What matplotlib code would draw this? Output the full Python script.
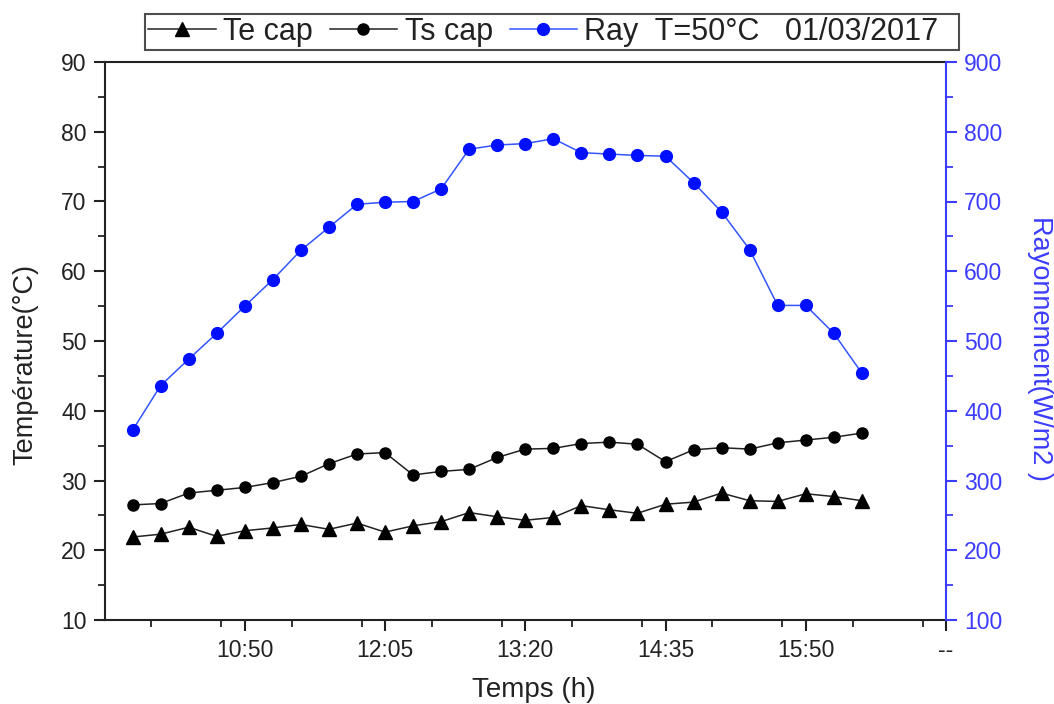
import matplotlib
matplotlib.use("Agg")
import matplotlib.pyplot as plt
from matplotlib.ticker import MultipleLocator, FixedLocator, FixedFormatter

plt.rcParams['font.family'] = ['Liberation Sans', 'DejaVu Sans']

# ---- data ----
times = ["09:50", "10:05", "10:20", "10:35", "10:50", "11:05", "11:20", "11:35",
         "11:50", "12:05", "12:20", "12:35", "12:50", "13:05", "13:20", "13:35",
         "13:50", "14:05", "14:20", "14:35", "14:50", "15:05", "15:20", "15:35",
         "15:50", "16:05", "16:20"]
te_cap = [21.9, 22.3, 23.3, 22.0, 22.8, 23.2, 23.7, 23.0, 23.9, 22.6, 23.5, 24.1,
          25.4, 24.8, 24.3, 24.7, 26.4, 25.8, 25.3, 26.6, 26.9, 28.2, 27.1, 27.0,
          28.1, 27.7, 27.1]
ts_cap = [26.5, 26.7, 28.2, 28.6, 29.0, 29.7, 30.6, 32.4, 33.8, 34.0, 30.8, 31.3,
          31.6, 33.3, 34.5, 34.6, 35.3, 35.5, 35.2, 32.7, 34.4, 34.7, 34.5, 35.4,
          35.8, 36.2, 36.8]
ray = [372, 436, 474, 511, 550, 588, 630, 663, 696, 699, 700, 718,
       775, 781, 783, 790, 770, 768, 766, 765, 727, 685, 631, 551,
       551, 511, 454]
xtick_labels = ["10:50", "12:05", "13:20", "14:35", "15:50", "--"]
xtick_times = ["10:50", "12:05", "13:20", "14:35", "15:50", "17:05"]
x_range = ["09:35", "17:05"]

def to_min(t):
    h, m = t.split(":")
    return int(h) * 60 + int(m)

x = [to_min(t) for t in times]

BLUE_AX = '#3c3cff'
BLUE_MK = '#0010ff'
BLUE_LN = '#3355ff'
DARK = '#222222'

fig = plt.figure(figsize=(10.54, 7.04), dpi=100)
L, R, B, T = 104.5 / 1054, 946 / 1054, 1 - 620 / 704, 1 - 62 / 704
ax = fig.add_axes([L, B, R - L, T - B])
ax2 = ax.twinx()

l1, = ax.plot(x, te_cap, color=DARK, lw=1.1, marker='^', ms=10.5,
              mfc='black', mec='black', label='Te cap')
l2, = ax.plot(x, ts_cap, color=DARK, lw=1.1, marker='o', ms=8,
              mfc='black', mec='black', label='Ts cap')
l3, = ax2.plot(x, ray, color=BLUE_LN, lw=1.1, marker='o', ms=8.5,
               mfc=BLUE_MK, mec=BLUE_MK, label='Ray  T=50°C   01/03/2017  ')

ax.set_xlim(to_min(x_range[0]), to_min(x_range[1]))
ax.set_ylim(10, 90)
ax2.set_ylim(100, 900)

ax.xaxis.set_major_locator(FixedLocator([to_min(t) for t in xtick_times]))
ax.xaxis.set_major_formatter(FixedFormatter(xtick_labels))
ax.xaxis.set_minor_locator(MultipleLocator(37.5))
ax.yaxis.set_major_locator(MultipleLocator(10))
ax.yaxis.set_minor_locator(MultipleLocator(5))
ax2.yaxis.set_major_locator(MultipleLocator(100))
ax2.yaxis.set_minor_locator(MultipleLocator(50))

for a in (ax, ax2):
    for s in a.spines.values():
        s.set_linewidth(1.5)
ax.spines['right'].set_visible(False)
ax2.spines['left'].set_visible(False)
ax2.spines['top'].set_visible(False)
ax2.spines['bottom'].set_visible(False)
ax2.spines['right'].set_color(BLUE_AX)
for k in ('left', 'top', 'bottom'):
    ax.spines[k].set_color(DARK)

ax.tick_params(axis='both', which='major', direction='out', length=8, width=1.5,
               labelsize=16.5, colors=DARK, labelcolor=DARK, pad=5)
ax.tick_params(axis='both', which='minor', direction='out', length=5, width=1.3,
               colors=DARK)
ax.tick_params(axis='x', which='major', pad=6)
ax2.tick_params(axis='y', which='major', direction='out', length=8, width=1.5,
                labelsize=16.5, colors=BLUE_AX, labelcolor=BLUE_AX, pad=5)
ax2.tick_params(axis='y', which='minor', direction='out', length=5, width=1.3,
                colors=BLUE_AX)

ax.set_xlabel('Temps (h)', fontsize=20, color=DARK, va='center')
ax.xaxis.set_label_coords(0.5104, -0.1254)
ax.set_ylabel('Température(°C)', fontsize=19.5, color=DARK, va='center')
ax.yaxis.set_label_coords(-0.0945, 0.457)
ax2.set_ylabel('Rayonnement(W/m2 )', fontsize=19.5, color=BLUE_AX, rotation=-90,
               va='center')
ax2.yaxis.set_label_coords(1.1117, 0.486)

leg = fig.legend(handles=[l1, l2, l3], loc='center', bbox_to_anchor=(552 / 1054, 1 - 32 / 704),
                 ncol=3, fontsize=22, frameon=True, fancybox=False, edgecolor=DARK,
                 handlelength=2.2, handletextpad=0.25, columnspacing=0.55,
                 borderpad=0.1, borderaxespad=0)
leg.get_frame().set_linewidth(1.5)
for t in leg.get_texts():
    t.set_color(DARK)

fig.savefig('out.png', dpi=100)
